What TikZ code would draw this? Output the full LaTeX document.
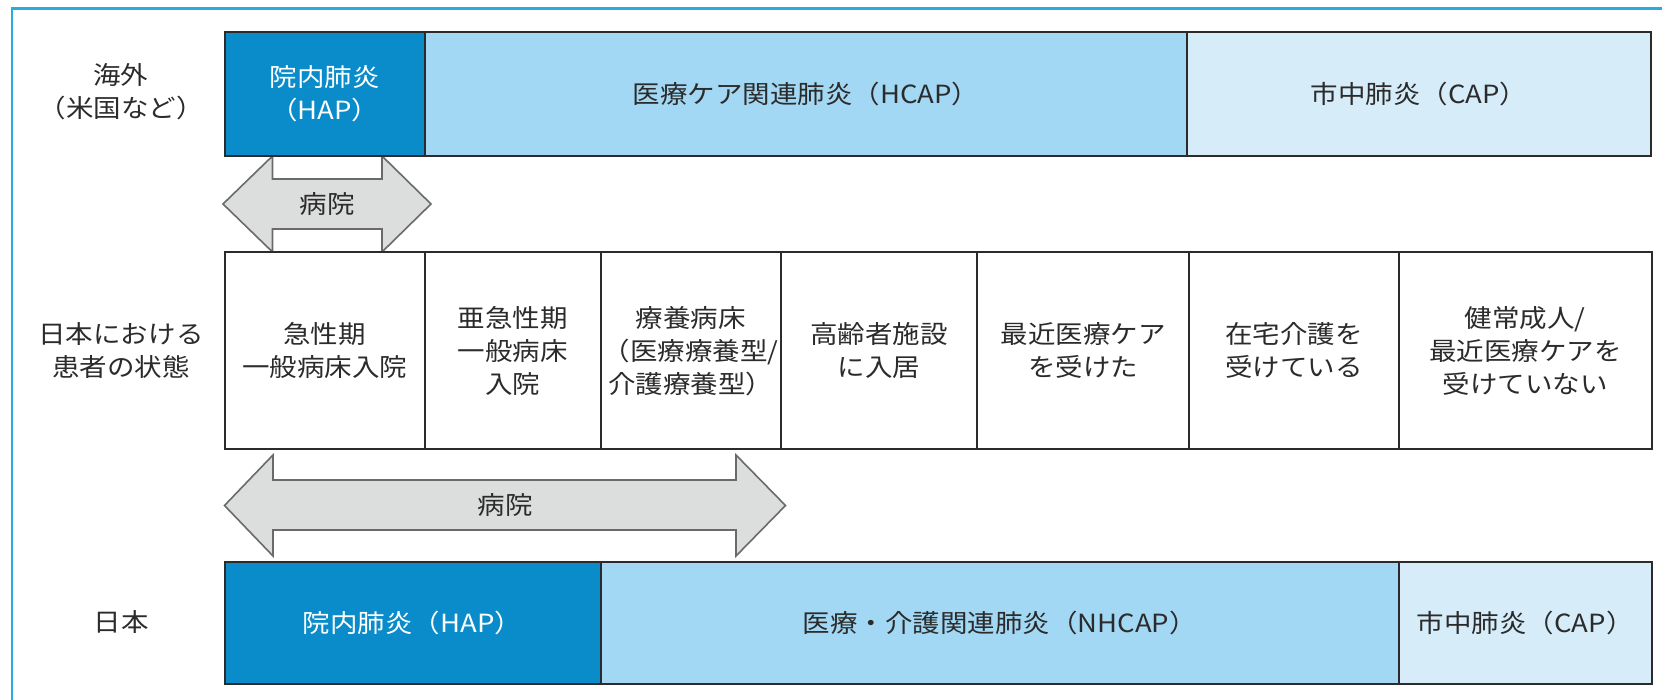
\documentclass[tikz,border=0pt]{standalone}
\usepackage{fontspec}
\setmainfont{Noto Sans CJK JP}[FakeStretch=1.1]
\definecolor{framec}{HTML}{29ABE2}
\definecolor{hapc}{HTML}{0A8CCA}
\definecolor{hcapc}{HTML}{A2D8F4}
\definecolor{capc}{HTML}{D6EDF9}
\definecolor{linec}{HTML}{2B2B2B}
\definecolor{textc}{HTML}{2B2B2B}
\definecolor{arrfill}{HTML}{DCDDDD}
\definecolor{arrline}{HTML}{6A6A6A}
\newcommand\fs{\fontsize{12.5}{16.5}\selectfont}
\begin{document}
\begin{tikzpicture}[x=0.5pt,y=-0.5pt,
  cellbox/.style={draw=linec, line width=1pt, inner sep=0pt, align=center, font=\fs, text=textc},
  lbl/.style={align=center, font=\fs, text=textc, inner sep=0pt},
  blockarrow/.style={draw=arrline, fill=arrfill, line width=0.8pt, line join=miter}]
\useasboundingbox (0,0) rectangle (1662,700);
\fill[white] (0,0) rectangle (1662,700);
% frame
\draw[framec, line width=1.2pt] (11.7,710) -- (11.7,8.5) -- (1670,8.5);

% arrows
\draw[blockarrow] (223,204) -- (272.5,156) -- (272.5,179) -- (382,179) -- (382,156) -- (431,204) -- (382,252) -- (382,229) -- (272.5,229) -- (272.5,252) -- cycle;
\node[lbl] (hospA) at (327,204) {病院};
\draw[blockarrow] (224.5,505.5) -- (273,455) -- (273,480) -- (736,480) -- (736,455) -- (785.5,505.5) -- (736,556) -- (736,530) -- (273,530) -- (273,556) -- cycle;
\node[lbl] (hospB) at (505,505.5) {病院};

% left labels
\node[lbl] (lOver) at (121,92) {海外\\（米国など）};
\node[lbl] (lState) at (121,351) {日本における\\患者の状態};
\node[lbl] (lJapan) at (121,622) {日本};

% top row
\node[cellbox, fill=hapc, text=white, minimum width=100.25pt, minimum height=62pt] (hapT) at (324.75,94) {院内肺炎\\（HAP）};
\node[cellbox, fill=hcapc, minimum width=381pt, minimum height=62pt] (hcapT) at (806,94) {医療ケア関連肺炎（HCAP）};
\node[cellbox, fill=capc, minimum width=232pt, minimum height=62pt] (capT) at (1419,94) {市中肺炎（CAP）};

% middle row
\node[cellbox, fill=white, minimum width=100pt, minimum height=98.75pt] (c1) at (324.5,350.75) {急性期\\一般病床入院};
\node[cellbox, fill=white, minimum width=88pt, minimum height=98.75pt] (c2) at (512.5,350.75) {亜急性期\\一般病床\\入院};
\node[cellbox, fill=white, minimum width=90pt, minimum height=98.75pt] (c3) at (690.5,350.75) {療養病床\\（医療療養型/\\介護療養型）};
\node[cellbox, fill=white, minimum width=98.2pt, minimum height=98.75pt] (c4) at (878.8,350.75) {高齢者施設\\に入居};
\node[cellbox, fill=white, minimum width=106pt, minimum height=98.75pt] (c5) at (1083,350.75) {最近医療ケア\\を受けた};
\node[cellbox, fill=white, minimum width=105pt, minimum height=98.75pt] (c6) at (1294,350.75) {在宅介護を\\受けている};
\node[cellbox, fill=white, minimum width=126.25pt, minimum height=98.75pt] (c7) at (1525.25,350.75) {健常成人/\\最近医療ケアを\\受けていない};

% bottom row
\node[cellbox, fill=hapc, text=white, minimum width=188pt, minimum height=61pt] (hapB) at (412.5,623) {院内肺炎（HAP）};
\node[cellbox, fill=hcapc, minimum width=399.25pt, minimum height=61pt] (nhcapB) at (999.75,623) {医療・介護関連肺炎（NHCAP）};
\node[cellbox, fill=capc, minimum width=126.25pt, minimum height=61pt] (capB) at (1525.25,623) {市中肺炎（CAP）};
\end{tikzpicture}
\end{document}
